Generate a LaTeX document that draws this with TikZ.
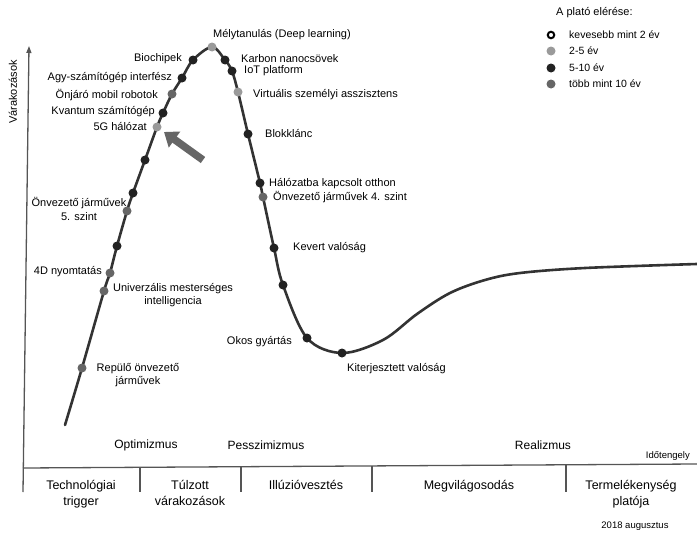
\documentclass[tikz,border=0pt]{standalone}
\usepackage{fontspec}
\setmainfont{Liberation Sans}
\usetikzlibrary{arrows.meta}
\definecolor{curvecol}{HTML}{333333}
\definecolor{darkdot}{HTML}{222222}
\definecolor{lightdot}{HTML}{9A9A9A}
\definecolor{middot}{HTML}{666666}
\definecolor{axiscol}{HTML}{555555}
\definecolor{bigarrow}{HTML}{666666}

\begin{document}
\begin{tikzpicture}[x=1pt,y=-1pt,
  lbl/.style={inner sep=0pt, font=\fontsize{11}{13.5}\selectfont},
  lblc/.style={lbl, align=center},
  phase/.style={inner sep=0pt, font=\fontsize{12}{15}\selectfont},
  cell/.style={inner sep=0pt, align=center, anchor=north, font=\fontsize{12.5}{16}\selectfont},
  small/.style={inner sep=0pt, font=\fontsize{9.5}{11}\selectfont},
  axisline/.style={draw=axiscol, line width=1.3pt},
  hype/.style={draw=curvecol, line width=2.6pt, line cap=round},
  dotbase/.style={circle, inner sep=0pt, minimum size=9pt},
  dotd/.style={dotbase, fill=darkdot},
  dotl/.style={dotbase, fill=lightdot},
  dotm/.style={dotbase, fill=middot},
  doto/.style={circle, inner sep=0pt, minimum size=6.5pt, draw=black, line width=2pt, fill=white},
]
\useasboundingbox (0,0) rectangle (697,538);

% axes
\coordinate (ybot) at (23,492);
\coordinate (ytop) at (29,46);
\coordinate (xl) at (23,468);
\coordinate (xr) at (697,464);
\draw[axisline, -{Triangle[length=7pt,width=5pt]}] (ybot) -- (ytop);
\draw[axisline] (xl) -- (xr);
\node[lbl, rotate=90] (yl) at (13,92) {Várakozások};
\node[small, anchor=east] (tl) at (690,456) {Időtengely};

% phase separators
\foreach \x/\yt in {140/467.2, 241/466.7, 372/465.9, 566/464.8}{
  \coordinate (st\x) at (\x,\yt);
  \coordinate (sb\x) at (\x,492);
  \draw[axisline] (st\x) -- (sb\x);
}

% phase names
\node[cell] (c1) at (81,480) {Technológiai\\trigger};
\node[cell] (c2) at (190,480) {Túlzott\\várakozások};
\node[cell] (c3) at (306,480) {Illúzióvesztés};
\node[cell] (c4) at (469,480) {Megvilágosodás};
\node[cell] (c5) at (631,480) {Termelékenység\\platója};

\node[phase] (p1) at (146,445) {Optimizmus};
\node[phase] (p2) at (266,445) {Pesszimizmus};
\node[phase] (p3) at (543,445) {Realizmus};

\node[small] (date) at (635,526) {2018 augusztus};

% hype curve
\draw[hype] plot[smooth, tension=0.55] coordinates {
  (65,425) (82,368) (104,291) (110,273) (117,246) (127,211) (133,193)
  (145,160) (157,127) (163,113) (172,94) (182,78) (193,60) (212,47)
  (225,60) (232,71) (238,92) (248,134) (260,183) (263,197) (274,248)
  (283,285) (307,338) (342,353) (383,340) (417,314) (450,293) (485,280)
  (520,273) (585,268) (697,264)};

% technologies on the curve
\node[dotm] (t1) at (82,368) {};
\node[dotm] (t2) at (104,291) {};
\node[dotm] (t3) at (110,273) {};
\node[dotd] (t4) at (117,246) {};
\node[dotm] (t5) at (127,211) {};
\node[dotd] (t6) at (133,193) {};
\node[dotd] (t7) at (145,160) {};
\node[dotl] (t8) at (157,127) {};
\node[dotd] (t9) at (163,113) {};
\node[dotm] (t10) at (172,94) {};
\node[dotd] (t11) at (182,78) {};
\node[dotd] (t12) at (193,60) {};
\node[dotl] (t13) at (212,47) {};
\node[dotd] (t14) at (225,60) {};
\node[dotd] (t15) at (232,71) {};
\node[dotl] (t16) at (238,92) {};
\node[dotd] (t17) at (248,134) {};
\node[dotd] (t18) at (260,183) {};
\node[dotm] (t19) at (263,197) {};
\node[dotd] (t20) at (274,248) {};
\node[dotd] (t21) at (283,285) {};
\node[dotd] (t22) at (307,338) {};
\node[dotd] (t23) at (342,353) {};

% labels
\node[lblc] (l1) at (138,375) {Repülő önvezető\\járművek};
\node[lblc] (l2) at (173,295) {Univerzális mesterséges\\intelligencia};
\node[lbl, anchor=east] (l3) at (102,272) {4D nyomtatás};
\node[lblc] (l5) at (79,209) {Önvezető járművek\\5. szint};
\node[lbl, anchor=east] (l8) at (147,127) {5G hálózat};
\node[lbl, anchor=east] (l9) at (155,112) {Kvantum számítógép};
\node[lbl, anchor=east] (l10) at (158,95) {Önjáró mobil robotok};
\node[lbl, anchor=east] (l11) at (172,78) {Agy-számítógép interfész};
\node[lbl, anchor=east] (l12) at (182,59) {Biochipek};
\node[lbl, anchor=west] (l13) at (213,35) {Mélytanulás (Deep learning)};
\node[lbl, anchor=west] (l14) at (241,59) {Karbon nanocsövek};
\node[lbl, anchor=west] (l15) at (244,71) {IoT platform};
\node[lbl, anchor=west] (l16) at (253,95) {Virtuális személyi asszisztens};
\node[lbl, anchor=west] (l17) at (265,134) {Blokklánc};
\node[lbl, anchor=west] (l18) at (269,184) {Hálózatba kapcsolt otthon};
\node[lbl, anchor=west] (l19) at (273,197) {Önvezető járművek 4. szint};
\node[lbl, anchor=west] (l20) at (293,248) {Kevert valóság};
\node[lbl, anchor=east] (l22) at (292,342) {Okos gyártás};
\node[lbl, anchor=west] (l23) at (347,369) {Kiterjesztett valóság};

% pointer arrow
\coordinate (aw) at (203,160);
\coordinate (ah) at (164,132);
\draw[draw=bigarrow, line width=7.5pt, -{Triangle[length=13pt,width=19pt]}] (aw) -- (ah);

% legend
\node[lbl, anchor=west] (lt) at (556,13) {A plató elérése:};
\node[doto] (g1) at (551,35) {};
\node[dotl] (g2) at (551,51) {};
\node[dotd] (g3) at (551,68) {};
\node[dotm] (g4) at (551,84) {};
\node[lbl, anchor=west, font=\fontsize{10.5}{12}\selectfont] (gl1) at (569,35) {kevesebb mint 2 év};
\node[lbl, anchor=west, font=\fontsize{10.5}{12}\selectfont] (gl2) at (569,51) {2-5 év};
\node[lbl, anchor=west, font=\fontsize{10.5}{12}\selectfont] (gl3) at (569,68) {5-10 év};
\node[lbl, anchor=west, font=\fontsize{10.5}{12}\selectfont] (gl4) at (569,84) {több mint 10 év};
\end{tikzpicture}
\end{document}
